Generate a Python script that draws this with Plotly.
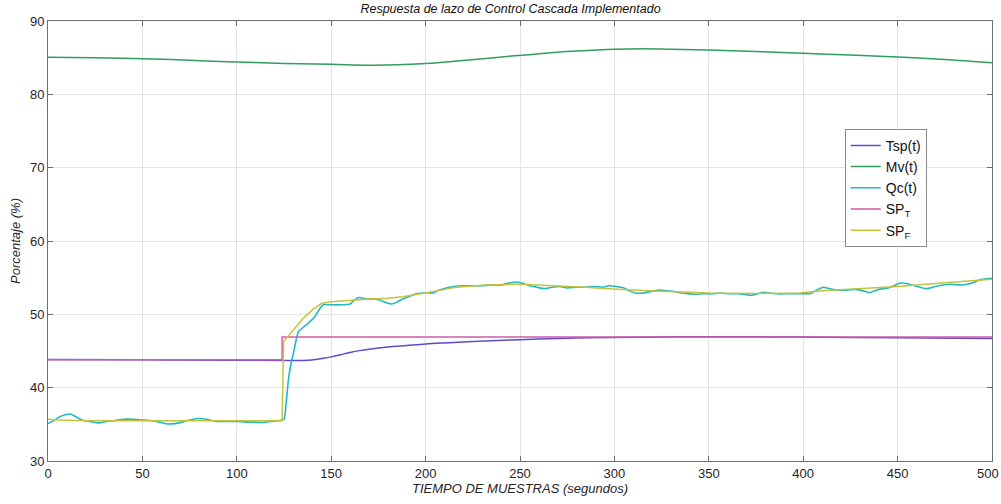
import plotly.graph_objects as go

# ---------------- data ----------------
t_qc = [0, 3, 6, 9, 12, 15, 18, 22, 27, 31, 35, 40, 45, 50, 55, 59, 63, 67, 71, 75, 79, 84, 89, 95,
        100, 105, 110, 114, 118, 122, 125, 126, 127.3, 128.5, 130, 132.6, 135, 137, 141.4, 143.5,
        145.8, 150, 155, 160, 162, 164.4, 167, 170.5, 173, 175.8, 179, 182, 185, 187, 191, 195,
        198, 201, 204, 207, 211, 215, 220, 225, 230, 235, 240, 245, 248, 252, 255, 259, 263, 267,
        271, 275, 280, 285, 290, 294, 297, 301, 305, 308, 311, 315, 319, 324, 328, 332, 336, 341,
        347, 352, 356, 361, 366, 369, 372.7, 376, 379, 382, 386, 392, 398, 404, 407, 410.6, 414,
        418, 422, 427, 432, 435, 440, 445, 448, 451, 455, 459, 465, 470, 474, 478, 483, 487, 490,
        494, 497, 500]
qc = [35.1, 35.5, 36.0, 36.3, 36.4, 36.0, 35.6, 35.4, 35.2, 35.4, 35.5, 35.7, 35.7, 35.6, 35.5,
      35.3, 35.05, 35.1, 35.3, 35.6, 35.8, 35.7, 35.4, 35.4, 35.4, 35.3, 35.3, 35.25, 35.4, 35.5,
      35.7, 37.5, 41.0, 43.0, 44.7, 47.6, 48.2, 48.6, 49.7, 50.6, 51.3, 51.3, 51.3, 51.4, 51.9,
      52.3, 52.2, 52.1, 52.1, 51.95, 51.6, 51.4, 51.7, 52.0, 52.4, 52.8, 52.9, 52.95, 52.9, 53.3,
      53.6, 53.8, 53.9, 53.9, 53.9, 54.0, 54.0, 54.3, 54.4, 54.2, 53.9, 53.7, 53.5, 53.7, 53.8,
      53.6, 53.7, 53.7, 53.8, 53.7, 53.9, 53.8, 53.6, 53.2, 52.9, 52.9, 53.1, 53.3, 53.2, 53.1,
      52.9, 52.75, 52.8, 52.8, 52.9, 52.8, 52.8, 52.7, 52.6, 52.8, 53.0, 52.9, 52.8, 52.8, 52.8,
      52.85, 53.3, 53.7, 53.5, 53.3, 53.3, 53.4, 53.2, 52.95, 53.4, 53.6, 53.9, 54.25, 54.2, 53.9,
      53.5, 53.8, 54.0, 54.1, 54.0, 54.1, 54.3, 54.75, 54.85, 54.9]

t_spf = [0, 5, 20, 50, 100, 124, 124.8, 128, 131, 135, 140, 145, 150, 155, 160, 165, 170, 180,
         188, 195, 200, 208, 216, 222, 232, 250, 260, 268, 285, 292, 303, 315, 328, 350, 375, 398,
         410, 430, 450, 475, 500]
sp_f = [35.7, 35.6, 35.5, 35.5, 35.5, 35.5, 46.3, 47.3, 48.2, 49.4, 50.6, 51.5, 51.7, 51.8, 51.8,
        52.0, 52.1, 52.2, 52.4, 52.7, 52.9, 53.3, 53.7, 53.8, 54.0, 54.1, 54.0, 53.86, 53.7, 53.55,
        53.45, 53.25, 53.1, 52.9, 52.85, 52.9, 53.2, 53.5, 53.8, 54.3, 54.8]

t_tsp = [0, 50, 100, 125, 138, 142, 146, 150, 155, 160, 165, 170, 180, 190, 200, 210, 225, 250,
         275, 300, 325, 350, 400, 450, 500]
tsp = [43.85, 43.8, 43.75, 43.72, 43.75, 43.85, 44.0, 44.2, 44.5, 44.8, 45.05, 45.25, 45.55,
       45.75, 45.95, 46.1, 46.3, 46.55, 46.75, 46.85, 46.92, 46.95, 46.9, 46.8, 46.7]

t_spt = [0, 124, 124, 500]
sp_t = [43.8, 43.8, 46.9, 46.9]

t_mv = [0, 25, 50, 75, 100, 125, 150, 170, 185, 200, 215, 239, 260, 280, 300, 315, 330, 350,
        375, 400, 425, 450, 475, 500]
mv = [85.05, 84.98, 84.86, 84.65, 84.4, 84.22, 84.1, 83.98, 84.02, 84.2, 84.5, 85.05, 85.55,
      85.9, 86.15, 86.22, 86.15, 86.05, 85.85, 85.6, 85.35, 85.1, 84.75, 84.3]

x_ticks = [0, 50, 100, 150, 200, 250, 300, 350, 400, 450, 500]
x_tick_labels = [str(v) for v in x_ticks]
y_ticks = [30, 40, 50, 60, 70, 80, 90]

# ---------------- figure ----------------
fig = go.Figure()
fig.add_trace(go.Scatter(x=t_tsp, y=tsp, mode="lines", name="Tsp(t)",
                         line=dict(color="#5a4ccc", width=1.5, shape="spline")))
fig.add_trace(go.Scatter(x=t_mv, y=mv, mode="lines", name="Mv(t)",
                         line=dict(color="#2f9e5e", width=1.5, shape="spline")))
fig.add_trace(go.Scatter(x=t_qc, y=qc, mode="lines", name="Qc(t)",
                         line=dict(color="#22b8c4", width=1.6, shape="spline", smoothing=0.6)))
fig.add_trace(go.Scatter(x=t_spt, y=sp_t, mode="lines", name="SP<sub>T</sub>",
                         line=dict(color="#d45aa8", width=1.5)))
fig.add_trace(go.Scatter(x=t_spf, y=sp_f, mode="lines", name="SP<sub>F</sub>",
                         line=dict(color="#c4c43c", width=1.5)))

tick_font = dict(family="Liberation Sans, Arial", size=13, color="#262626")
axis_common = dict(showgrid=True, gridcolor="#e4e4e4", gridwidth=1, zeroline=False,
                   showline=True, linecolor="#6e6e6e", linewidth=1, mirror="ticks",
                   ticks="inside", ticklen=5, tickcolor="#6e6e6e",
                   automargin=False, tickfont=tick_font)

# last x tick label is drawn as an annotation nudged left so it stays inside the page
fig.add_annotation(x=x_ticks[-1], y=0, xref="x", yref="paper", text=x_tick_labels[-1],
                   showarrow=False, xanchor="right", yanchor="top", xshift=9, yshift=-3,
                   font=tick_font)

fig.update_layout(
    width=1001, height=504,
    margin=dict(l=48, r=9, t=21, b=43),
    paper_bgcolor="white", plot_bgcolor="white",
    title=dict(text="<i>Respuesta de lazo de Control Cascada Implementado</i>",
               x=0.51, xanchor="center", y=0.982, yanchor="middle",
               font=dict(family="Liberation Sans, Arial", size=12.5, color="#111111")),
    xaxis=dict(range=[0, 500], tickvals=x_ticks,
               ticktext=x_tick_labels[:-1] + [""],
               title=dict(text="<i>TIEMPO DE MUESTRAS (segundos)</i>", standoff=4,
                          font=dict(family="Liberation Sans, Arial", size=13, color="#262626")),
               **axis_common),
    yaxis=dict(range=[30, 90], tickvals=y_ticks,
               title=dict(text="<i>Porcentaje (%)</i>", standoff=6,
                          font=dict(family="Liberation Sans, Arial", size=13, color="#262626")),
               **axis_common),
    legend=dict(x=0.844, y=0.755, xanchor="left", yanchor="top",
                bgcolor="white", bordercolor="#8a8a8a", borderwidth=1,
                font=dict(family="Liberation Sans, Arial", size=14, color="#111111"),
                tracegroupgap=0, itemwidth=30),
    showlegend=True,
)

fig.write_html("out.html")
